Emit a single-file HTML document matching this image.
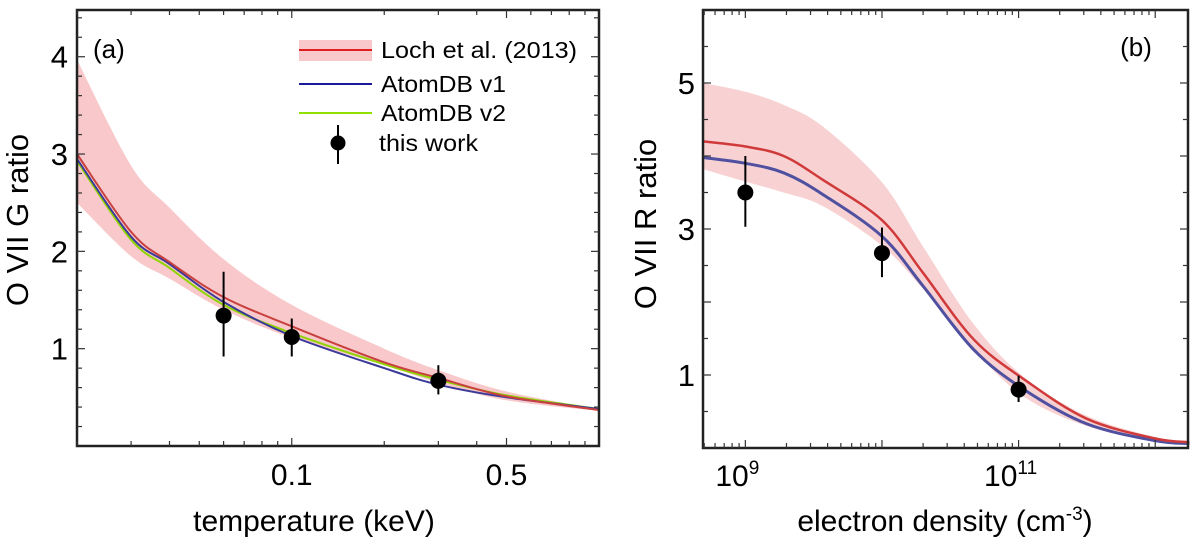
<!DOCTYPE html>
<html><head><meta charset="utf-8"><style>
body{margin:0;background:#fff;}
svg text{font-family:"Liberation Sans",Arial,sans-serif;fill:#000;}
</style></head><body>
<svg id="fig" width="1200" height="539" viewBox="0 0 1200 539" xmlns="http://www.w3.org/2000/svg">
<g id="pa"></g>
<g id="pb"></g>
</svg>
<script>
// Panel (a) data
const aTemps = [0.02, 0.03, 0.04, 0.06, 0.1, 0.2, 0.3, 0.5, 1.0];
const aLoch = [3.0, 2.2, 1.89, 1.53, 1.23, 0.86, 0.70, 0.51, 0.37];
const aLochHi = [3.97, 2.88, 2.45, 1.92, 1.45, 1.0, 0.78, 0.56, 0.38];
const aLochLo = [2.5, 1.95, 1.72, 1.4, 1.11, 0.83, 0.65, 0.47, 0.36];
const aV1 = [2.95, 2.15, 1.87, 1.48, 1.13, 0.80, 0.63, 0.50, 0.38];
const aV2 = [2.93, 2.12, 1.83, 1.45, 1.16, 0.84, 0.68, 0.52, 0.38];
const aObsT = [0.06, 0.1, 0.3];
const aObs = [1.34, 1.12, 0.67];
const aObsHi = [1.79, 1.31, 0.83];
const aObsLo = [0.92, 0.92, 0.53];
const aXTicks = [0.1, 0.5];
const aXTickLabels = ["0.1", "0.5"];
const aYTicks = [1, 2, 3, 4];
// Panel (b) data (log10 density)
const bLogNe = [8.69, 9, 9.28, 9.57, 10, 10.3, 10.67, 11.04, 11.5, 12, 12.25];
const bLoch = [4.2, 4.13, 4.0, 3.67, 3.12, 2.4, 1.49, 0.94, 0.4, 0.13, 0.08];
const bLochHi = [5.0, 4.88, 4.7, 4.4, 3.64, 2.76, 1.7, 0.97, 0.44, 0.15, 0.08];
const bLochLo = [3.82, 3.65, 3.5, 3.31, 2.77, 2.18, 1.35, 0.7, 0.3, 0.09, 0.05];
const bV1 = [3.98, 3.9, 3.77, 3.47, 2.9, 2.22, 1.35, 0.8, 0.33, 0.1, 0.06];
const bObsNe = [9, 10, 11];
const bObs = [3.5, 2.67, 0.8];
const bObsHi = [4.0, 3.02, 0.99];
const bObsLo = [3.03, 2.34, 0.63];
const bXTicks = [9, 11];
const bYTicks = [1, 3, 5];

const NS = "http://www.w3.org/2000/svg";
function mk(parent, tag, attrs, text){
  const e = document.createElementNS(NS, tag);
  for (const k in attrs) e.setAttribute(k, attrs[k]);
  if (text !== undefined) e.textContent = text;
  parent.appendChild(e); return e;
}
const A = {l:77, r:599, t:10, b:446, xmin:Math.log10(0.02), xmax:0, ymin:0, ymax:4.48};
const B = {l:703, r:1188, t:10, b:448, xmin:8.69, xmax:12.24, ymin:0, ymax:6.0};
function ax(v){return A.l + (Math.log10(v)-A.xmin)/(A.xmax-A.xmin)*(A.r-A.l);}
function ay(v){return A.b - (v-A.ymin)/(A.ymax-A.ymin)*(A.b-A.t);}
function bx(v){return B.l + (v-B.xmin)/(B.xmax-B.xmin)*(B.r-B.l);}
function by(v){return B.b - (v-B.ymin)/(B.ymax-B.ymin)*(B.b-B.t);}
function pts(xs, ys, fx, fy){return xs.map((x,i)=>[fx(x), fy(ys[i])]);}
function spline(p, start){
  let d = start ? "M"+p[0][0].toFixed(1)+","+p[0][1].toFixed(1) : "L"+p[0][0].toFixed(1)+","+p[0][1].toFixed(1);
  for (let i=0;i<p.length-1;i++){
    const p0=p[Math.max(0,i-1)], p1=p[i], p2=p[i+1], p3=p[Math.min(p.length-1,i+2)];
    const c1=[p1[0]+(p2[0]-p0[0])/6, p1[1]+(p2[1]-p0[1])/6];
    const c2=[p2[0]-(p3[0]-p1[0])/6, p2[1]-(p3[1]-p1[1])/6];
    d += "C"+c1[0].toFixed(1)+","+c1[1].toFixed(1)+" "+c2[0].toFixed(1)+","+c2[1].toFixed(1)+" "+p2[0].toFixed(1)+","+p2[1].toFixed(1);
  }
  return d;
}
function line(xs, ys, fx, fy){return spline(pts(xs,ys,fx,fy), true);}
function band(xs, hi, lo, fx, fy){
  return spline(pts(xs,hi,fx,fy), true) + spline(pts(xs,lo,fx,fy).reverse(), false) + "Z";
}
const pa = document.getElementById("pa"), pb = document.getElementById("pb");
let e;

// ---- Panel A ----
e = mk(pa,"path",{d:band(aTemps,aLochHi,aLochLo,ax,ay),fill:"#f8c8ca",stroke:"none"});


e = mk(pa,"path",{d:line(aTemps,aV2,ax,ay),fill:"none",stroke:"#8fd400","stroke-width":2});


e = mk(pa,"path",{d:line(aTemps,aV1,ax,ay),fill:"none",stroke:"#3a3a9a","stroke-width":2});


e = mk(pa,"path",{d:line(aTemps,aLoch,ax,ay),fill:"none",stroke:"#c8403f","stroke-width":2});


aObsT.forEach((t,i)=>{
  const g = mk(pa,"g",{});
  
  
  mk(g,"line",{x1:ax(t),x2:ax(t),y1:ay(aObsHi[i]),y2:ay(aObsLo[i]),stroke:"#000","stroke-width":2});
  mk(g,"circle",{cx:ax(t),cy:ay(aObs[i]),r:8,fill:"#000"});
});
e = mk(pa,"rect",{x:A.l,y:A.t,width:A.r-A.l,height:A.b-A.t,fill:"none",stroke:"#222","stroke-width":2.5});


for (let v=0.2; v<4.48; v+=0.2){
  const major = Math.abs(v-Math.round(v))<1e-6; const len = major?8:5;
  mk(pa,"line",{x1:A.l,x2:A.l+len,y1:ay(v),y2:ay(v),stroke:"#333","stroke-width":1.2});
  mk(pa,"line",{x1:A.r,x2:A.r-len,y1:ay(v),y2:ay(v),stroke:"#333","stroke-width":1.2});
}
[0.02,0.03,0.04,0.05,0.06,0.07,0.08,0.09,0.1,0.2,0.3,0.4,0.5,0.6,0.7,0.8,0.9].forEach(v=>{
  const len = (v===0.1||v===0.5)?8:5;
  mk(pa,"line",{x1:ax(v),x2:ax(v),y1:A.b,y2:A.b-len,stroke:"#333","stroke-width":1.2});
  mk(pa,"line",{x1:ax(v),x2:ax(v),y1:A.t,y2:A.t+len,stroke:"#333","stroke-width":1.2});
});
aYTicks.forEach(v=>{
  e = mk(pa,"text",{x:68,y:ay(v)+11,"font-size":31,"text-anchor":"end"},String(v));
  
  
});
aXTicks.forEach((v,i)=>{
  e = mk(pa,"text",{x:ax(v),y:485,"font-size":30,"text-anchor":"middle"},aXTickLabels[i]);
  
  
});
e = mk(pa,"text",{x:314,y:531,"font-size":30,"text-anchor":"middle"},"temperature (keV)");


e = mk(pa,"text",{x:28,y:220,"font-size":31,"text-anchor":"middle",transform:"rotate(-90 28 220)"},"O VII G ratio");


e = mk(pa,"text",{x:93,y:58,"font-size":26},"(a)");


const lg = mk(pa,"g",{});


mk(lg,"rect",{x:299,y:40,width:73,height:21,fill:"#f8c8ca"});
mk(lg,"line",{x1:299,x2:372,y1:50,y2:50,stroke:"#e02020","stroke-width":2});
mk(lg,"text",{x:381,y:58,"font-size":23,textLength:196,lengthAdjust:"spacingAndGlyphs"},"Loch et al. (2013)");
mk(lg,"line",{x1:299,x2:372,y1:84,y2:84,stroke:"#1a1a9a","stroke-width":2});
mk(lg,"text",{x:381,y:92,"font-size":23,textLength:125,lengthAdjust:"spacingAndGlyphs"},"AtomDB v1");
mk(lg,"line",{x1:299,x2:372,y1:113,y2:113,stroke:"#90e000","stroke-width":2});
mk(lg,"text",{x:381,y:121,"font-size":23,textLength:125,lengthAdjust:"spacingAndGlyphs"},"AtomDB v2");
mk(lg,"line",{x1:338,x2:338,y1:125,y2:164,stroke:"#000","stroke-width":2});
mk(lg,"circle",{cx:338,cy:143,r:7.5,fill:"#000"});
mk(lg,"text",{x:379,y:151,"font-size":23,textLength:99,lengthAdjust:"spacingAndGlyphs"},"this work");

// ---- Panel B ----
e = mk(pb,"path",{d:band(bLogNe,bLochHi,bLochLo,bx,by),fill:"#f8d2d3",stroke:"none"});


e = mk(pb,"path",{d:line(bLogNe,bV1,bx,by),fill:"none",stroke:"#5050a0","stroke-width":3});


e = mk(pb,"path",{d:line(bLogNe,bLoch,bx,by),fill:"none",stroke:"#d03a3a","stroke-width":2.5});


bObsNe.forEach((n,i)=>{
  const g = mk(pb,"g",{});
  
  
  mk(g,"line",{x1:bx(n),x2:bx(n),y1:by(bObsHi[i]),y2:by(bObsLo[i]),stroke:"#000","stroke-width":2});
  mk(g,"circle",{cx:bx(n),cy:by(bObs[i]),r:8,fill:"#000"});
});
e = mk(pb,"rect",{x:B.l,y:B.t,width:B.r-B.l,height:B.b-B.t,fill:"none",stroke:"#222","stroke-width":2.5});


for (let v=0.5; v<6; v+=0.5){
  const len = Math.abs(v-Math.round(v))<1e-6?8:5;
  mk(pb,"line",{x1:B.l,x2:B.l+len,y1:by(v),y2:by(v),stroke:"#333","stroke-width":1.2});
  mk(pb,"line",{x1:B.r,x2:B.r-len,y1:by(v),y2:by(v),stroke:"#333","stroke-width":1.2});
}
for (let d=8; d<=12; d++) for (let m=1; m<=9; m++){
  const v = d+Math.log10(m); if (v<B.xmin||v>B.xmax) continue;
  const len = m===1?8:5;
  mk(pb,"line",{x1:bx(v),x2:bx(v),y1:B.b,y2:B.b-len,stroke:"#333","stroke-width":1.2});
  mk(pb,"line",{x1:bx(v),x2:bx(v),y1:B.t,y2:B.t+len,stroke:"#333","stroke-width":1.2});
}
bYTicks.forEach(v=>{
  e = mk(pb,"text",{x:695,y:by(v)+11,"font-size":31,"text-anchor":"end"},String(v));
  
  
});
bXTicks.forEach(v=>{
  const t = mk(pb,"text",{x:bx(v)-8,y:486,"font-size":30,"text-anchor":"middle"});
  
  
  t.appendChild(document.createTextNode("10"));
  mk(t,"tspan",{dy:-12,"font-size":19},String(v));
});
e = mk(pb,"text",{x:945,y:531,"font-size":30,"text-anchor":"middle"},"");


e.appendChild(document.createTextNode("electron density (cm"));
mk(e,"tspan",{dy:-11,"font-size":19},"-3");
mk(e,"tspan",{dy:11},")");
e = mk(pb,"text",{x:656,y:224,"font-size":31,"text-anchor":"middle",transform:"rotate(-90 656 224)"},"O VII R ratio");


e = mk(pb,"text",{x:1136,y:56,"font-size":26,"text-anchor":"middle"},"(b)");


</script>
</body></html>
